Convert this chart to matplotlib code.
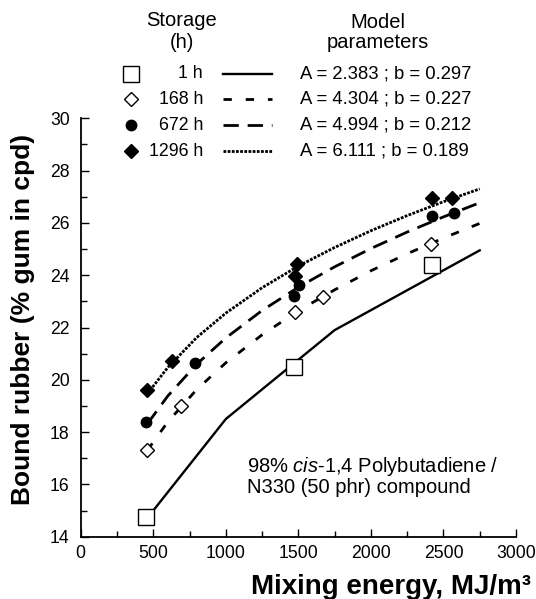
import matplotlib
matplotlib.use("Agg")
import matplotlib.pyplot as plt
from matplotlib.lines import Line2D

plt.rcParams["font.family"] = ["Liberation Sans", "DejaVu Sans"]
plt.rcParams["mathtext.fontset"] = "custom"
plt.rcParams["mathtext.it"] = "Liberation Sans:italic"
plt.rcParams["mathtext.rm"] = "Liberation Sans"

# storage time series (label, model text)
STORAGE = ["1 h", "168 h", "672 h", "1296 h"]
PARAMS = ["A = 2.383 ; b = 0.297", "A = 4.304 ; b = 0.227",
          "A = 4.994 ; b = 0.212", "A = 6.111 ; b = 0.189"]

E_1H = [450, 1471, 2421]
BR_1H = [14.77, 20.48, 24.39]
E_168H = [459, 689, 1476, 1667, 2417]
BR_168H = [17.31, 19.0, 22.6, 23.18, 25.18]
E_672H = [450, 789, 1471, 1503, 2421, 2571]
BR_672H = [18.4, 20.63, 23.22, 23.62, 26.28, 26.37]
E_1296H = [455, 627, 1476, 1488, 2421, 2559]
BR_1296H = [19.61, 20.73, 23.97, 24.42, 26.96, 26.96]

# model curves as drawn
CURVE_E_1H = [460, 1000, 1750, 2750]
CURVE_1H = [14.72, 18.5, 21.9, 24.95]
CURVE_E = [460, 600, 800, 1000, 1250, 1500, 1750, 2000, 2250, 2500, 2750]
CURVE_168H = [17.31, 18.39, 19.63, 20.65, 21.72, 22.64, 23.44, 24.17, 24.82, 25.42, 25.98]
CURVE_672H = [18.32, 19.38, 20.60, 21.60, 22.65, 23.54, 24.32, 25.02, 25.65, 26.23, 26.77]
CURVE_1296H = [19.47, 20.47, 21.62, 22.55, 23.52, 24.35, 25.06, 25.70, 26.28, 26.81, 27.30]

W, H = 536, 599
fig = plt.figure(figsize=(W / 100, H / 100), dpi=100)
ax = fig.add_axes([80.7 / W, 1 - 536.7 / H, 435.3 / W, 418.4 / H])

styles = [
    dict(marker="s", ms=11.5, mfc="white", mec="black", mew=1.0),
    dict(marker="D", ms=7.2, mfc="white", mec="black", mew=1.0),
    dict(marker="o", ms=7.5, mfc="black", mec="black", mew=1.0),
    dict(marker="D", ms=7.2, mfc="black", mec="black", mew=1.0),
]
lines = [
    dict(ls="-", lw=1.7),
    dict(ls=(0, (3.0, 5.0)), lw=2.0),
    dict(ls=(0, (5.5, 3.2)), lw=2.0),
    dict(ls=(0, (1.0, 0.5)), lw=2.0),
]

curves = [(CURVE_E_1H, CURVE_1H), (CURVE_E, CURVE_168H),
          (CURVE_E, CURVE_672H), (CURVE_E, CURVE_1296H)]
points = [(E_1H, BR_1H), (E_168H, BR_168H),
          (E_672H, BR_672H), (E_1296H, BR_1296H)]

for (cx, cy), ln in zip(curves, lines):
    ax.plot(cx, cy, color="black", zorder=2, **ln)
for (px, py), st in zip(points, styles):
    ax.plot(px, py, ls="none", zorder=3, **st)

ax.set_xlim(0, 3000)
ax.set_ylim(14, 30)
ax.set_xticks(range(0, 3001, 500))
ax.set_xticks(range(250, 3000, 500), minor=True)
ax.set_yticks(range(14, 31, 2))
ax.set_yticks(range(15, 30, 2), minor=True)
ax.tick_params(which="both", direction="in", labelsize=12.7)
ax.tick_params(which="major", length=6, width=1)
ax.tick_params(which="minor", length=4, width=1)
ax.tick_params(axis="y", pad=8)
ax.tick_params(axis="x", pad=6)
for s in ["top", "right"]:
    ax.spines[s].set_visible(False)
for s in ["left", "bottom"]:
    ax.spines[s].set_linewidth(1.3)

fig.text(23 / W, 1 - 319 / H, "Bound rubber (% gum in cpd)", rotation=90,
         ha="center", va="center", fontsize=19, fontweight="bold")
fig.text(391 / W, 1 - 587 / H, "Mixing energy, MJ/m³",
         ha="center", va="center", fontsize=20, fontweight="bold")

ax.text(1145, 16.68, "98% $\\it{cis}$-1,4 Polybutadiene /", fontsize=14.5,
        ha="left", va="center")
ax.text(1145, 15.87, "N330 (50 phr) compound", fontsize=14.5,
        ha="left", va="center")

# legend block above the axes
fig.text(182 / W, 1 - 21 / H, "Storage", ha="center", va="center", fontsize=14.5)
fig.text(182 / W, 1 - 43 / H, "(h)", ha="center", va="center", fontsize=14.5)
fig.text(378 / W, 1 - 22 / H, "Model", ha="center", va="center", fontsize=14.5)
fig.text(378 / W, 1 - 43 / H, "parameters", ha="center", va="center", fontsize=14.5)
row_y = [74, 99, 125, 151]
for i, y in enumerate(row_y):
    fy = 1 - y / H
    fig.add_artist(Line2D([131 / W], [fy], transform=fig.transFigure,
                          ls="none", **styles[i]))
    fig.text(203 / W, fy, STORAGE[i], ha="right", va="center", fontsize=12.8)
    fig.add_artist(Line2D([223 / W, 272 / W], [fy, fy], transform=fig.transFigure,
                          color="black", **lines[i]))
    fig.text(300 / W, fy, PARAMS[i], ha="left", va="center", fontsize=13.3)

fig.savefig("out.png", dpi=100)
